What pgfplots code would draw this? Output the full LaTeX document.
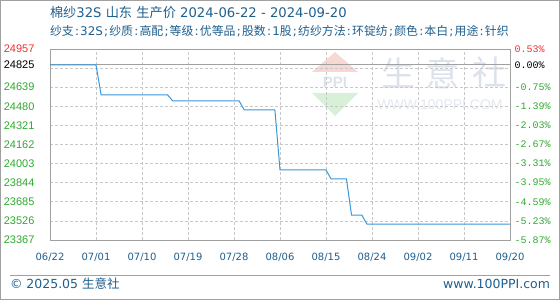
\documentclass[border=0pt]{standalone}
\usepackage{pgfplots}
\pgfplotsset{compat=1.18}
\usepackage{fontspec}
\setmainfont{Liberation Sans}
\newfontfamily\cjk{Noto Sans CJK SC}
\newfontfamily\lat{DejaVu Sans}
\newfontfamily\mono{Liberation Mono}
% separators in the spec line
\newcommand\co{{\lat\kern1.2pt:\kern1.2pt}}
\newcommand\sm{{\lat\kern1.2pt;\kern1.2pt}}

\definecolor{titleblue}{HTML}{1E5F8E}
\definecolor{lineblue}{HTML}{3B97D8}
\definecolor{tickgreen}{HTML}{2EAA2E}
\definecolor{tickred}{HTML}{F03030}
\definecolor{gridgray}{HTML}{C8C8C8}
\definecolor{framegray}{HTML}{A0A0A0}
\definecolor{wmblue}{HTML}{DCE2EC}
\definecolor{wmred}{HTML}{F8D8D2}
\definecolor{wmgreen}{HTML}{D8EFD8}

% daily producer price, day 0 = 2024-06-22
\pgfplotstableread{
day price
0  24825
9  24825
10 24575
23 24575
24 24525
37 24525
38 24450
44 24450
45 23950
54 23950
55 23875
58 23875
59 23575
61 23575
62 23500
90 23500
}\pricedata

\begin{document}
\begin{tikzpicture}
% outer frame, also sets the picture size
\draw[framegray, line width=1pt] (0.5pt,0.5pt) rectangle (559.5pt,299.5pt);

% titles
\node[anchor=mid west, inner sep=0pt, outer sep=0pt, text=titleblue, font=\cjk\fontsize{13.2}{15}\selectfont] at (50pt,285pt)
  {棉纱{\lat 32S }山东{\lat\ }生产价{\lat\ 2024-06-22 - 2024-09-20}};
\node[anchor=mid west, inner sep=0pt, outer sep=0pt, text=titleblue, font=\cjk\fontsize{11.9}{13}\selectfont] at (50pt,267pt)
  {纱支\co{\lat 32S}\sm 纱质\co 高配\sm 等级\co 优等品\sm 股数\co{\lat 1}股\sm 纺纱方法\co 环锭纺\sm 颜色\co 本白\sm 用途\co 针织};

% watermark
\fill[wmred] (335pt,248pt) -- (312pt,228pt) -- (358pt,228pt) -- cycle;
\node[text=wmblue, font=\bfseries\fontsize{15}{15}\selectfont, inner sep=0pt] at (335pt,218pt) {PPI};
\fill[wmgreen] (312pt,207pt) -- (358pt,207pt) -- (335pt,184pt) -- cycle;
\node[text=wmblue, font=\cjk\fontsize{34}{34}\selectfont, inner sep=0pt] at (398pt,227pt) {生};
\node[text=wmblue, font=\cjk\fontsize{34}{34}\selectfont, inner sep=0pt] at (442pt,227pt) {意};
\node[text=wmblue, font=\cjk\fontsize{34}{34}\selectfont, inner sep=0pt] at (489pt,227pt) {社};
\node[text=wmblue!80, font=\fontsize{14}{14}\selectfont, inner sep=0pt] at (440pt,195pt) {WWW.100PPI.COM};

% main axis (price)
\begin{axis}[
  at={(50pt,60pt)}, anchor=south west,
  scale only axis, width=460pt, height=191pt,
  xmin=0, xmax=90, ymin=23367, ymax=24957,
  scaled y ticks=false, scaled x ticks=false,
  axis line style={framegray, line width=0.8pt},
  major tick length=0,
  xtick={0,9,...,90},
  xticklabels={06/22,07/01,07/10,07/19,07/28,08/06,08/15,08/24,09/02,09/11,09/20},
  xticklabel style={text=titleblue, font=\lat\fontsize{10}{12}\selectfont, anchor=north, yshift=-10pt},
  ytick={23367,23526,23685,23844,24003,24162,24321,24480,24639,24798,24957},
  yticklabels={
    \textcolor{tickgreen}{23367},\textcolor{tickgreen}{23526},\textcolor{tickgreen}{23685},
    \textcolor{tickgreen}{23844},\textcolor{tickgreen}{24003},\textcolor{tickgreen}{24162},
    \textcolor{tickgreen}{24321},\textcolor{tickgreen}{24480},\textcolor{tickgreen}{24639},
    {},\textcolor{tickred}{24957}},
  yticklabel style={font=\fontsize{11}{12}\selectfont, anchor=east, xshift=-12pt},
  extra y ticks={24825},
  extra y tick labels={24825},
  extra y tick style={
    yticklabel style={text=black},
    ymajorgrids=true,
    major grid style={solid, framegray, line width=0.8pt}},
  xmajorgrids, ymajorgrids,
  grid style={gridgray, dash pattern=on 3pt off 2pt, line width=0.6pt},
]
\addplot[lineblue, line width=1pt] table[x=day, y=price] {\pricedata};
\end{axis}

% change relative to the 24825 base, right-hand scale
\begin{axis}[
  at={(50pt,60pt)}, anchor=south west,
  scale only axis, width=460pt, height=191pt,
  xmin=0, xmax=90, ymin=23367, ymax=24957,
  scaled y ticks=false,
  hide x axis, axis y line*=right, y axis line style={draw=none},
  major tick length=0,
  ytick={23367,23526,23685,23844,24003,24162,24321,24480,24639,24825,24957},
  yticklabels={
    \textcolor{tickgreen}{-5.87\%},\textcolor{tickgreen}{-5.23\%},\textcolor{tickgreen}{-4.59\%},
    \textcolor{tickgreen}{-3.95\%},\textcolor{tickgreen}{-3.31\%},\textcolor{tickgreen}{-2.67\%},
    \textcolor{tickgreen}{-2.03\%},\textcolor{tickgreen}{-1.39\%},\textcolor{tickgreen}{-0.75\%},
    \textcolor{black}{0.00\%},\textcolor{tickred}{0.53\%}},
  yticklabel style={font=\mono\fontsize{10}{12}\selectfont, anchor=west, xshift=1pt},
]
\addplot[draw=none] coordinates {(0,24000)};
\end{axis}

% footer
\draw[framegray, line width=0.8pt] (10pt,25pt) -- (550pt,25pt);
\node[anchor=mid west, inner sep=0pt, outer sep=0pt, text=titleblue, font=\cjk\fontsize{12.5}{14}\selectfont] at (10pt,14pt) {{\lat © 2025.05 }生意社};
\node[anchor=mid east, inner sep=0pt, outer sep=0pt, text=titleblue, font=\lat\fontsize{12.5}{14}\selectfont] at (550pt,14pt) {www.100PPI.com};
\end{tikzpicture}
\end{document}
